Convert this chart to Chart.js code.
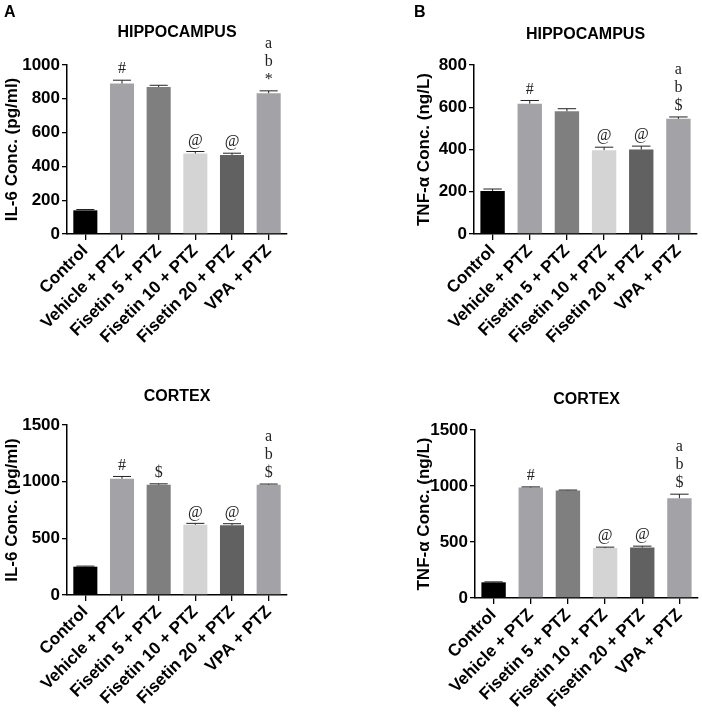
<!DOCTYPE html>
<html>
<head>
<meta charset="utf-8">
<script src="https://cdn.jsdelivr.net/npm/chart.js@4/dist/chart.umd.min.js"></script>
<style>
  body { margin: 0; background: #fff; width: 702px; height: 723px; position: relative; overflow: hidden; }
  canvas { position: absolute; }
</style>
</head>
<body>
<canvas id="panelA" width="351" height="360" style="left:0;top:0"></canvas>
<canvas id="panelB" width="351" height="360" style="left:351px;top:0"></canvas>
<canvas id="panelC" width="351" height="363" style="left:0;top:360px"></canvas>
<canvas id="panelD" width="351" height="363" style="left:351px;top:360px"></canvas>
<script>
const groups = ["Control", "Vehicle + PTZ", "Fisetin 5 + PTZ", "Fisetin 10 + PTZ", "Fisetin 20 + PTZ", "VPA + PTZ"];

const il6Hippo = [140, 890, 870, 476, 468, 833];
const il6HippoErr = [5, 20, 10, 12, 10, 14];
const il6HippoMarks = [[], ["#"], [], ["@"], ["@"], ["a", "b", "*"]];
const il6HippoTicks = [0, 200, 400, 600, 800, 1000];

const tnfHippo = [203, 617, 581, 397, 400, 545];
const tnfHippoErr = [10, 15, 12, 14, 16, 9];
const tnfHippoMarks = [[], ["#"], [], ["@"], ["@"], ["a", "b", "$"]];
const tnfHippoTicks = [0, 200, 400, 600, 800];

const il6Cortex = [250, 1026, 973, 620, 615, 973];
const il6CortexErr = [5, 20, 8, 12, 14, 6];
const il6CortexMarks = [[], ["#"], ["$"], ["@"], ["@"], ["a", "b", "$"]];
const il6CortexTicks = [0, 500, 1000, 1500];

const tnfCortex = [140, 986, 959, 446, 451, 891];
const tnfCortexErr = [4, 6, 5, 8, 12, 36];
const tnfCortexMarks = [[], ["#"], [], ["@"], ["@"], ["a", "b", "$"]];
const tnfCortexTicks = [0, 500, 1000, 1500];

const barColors = ["#000000", "#a3a2a7", "#7f7f7f", "#d4d4d4", "#616161", "#a3a2a7"];
const sans = "'Liberation Sans', Arial, sans-serif";
const serif = "'Liberation Serif', 'Times New Roman', serif";

function panel(id, p) {
  const extras = {
    id: "extras",
    afterDatasetsDraw(chart) {
      const ctx = chart.ctx;
      const y = chart.scales.y;
      const meta = chart.getDatasetMeta(0);
      ctx.save();
      p.values.forEach((v, i) => {
        const bar = meta.data[i];
        const yVal = y.getPixelForValue(v);
        const yTop = y.getPixelForValue(v + p.errors[i]);
        ctx.strokeStyle = "#222";
        ctx.lineWidth = 1;
        ctx.beginPath();
        ctx.moveTo(bar.x, yVal);
        ctx.lineTo(bar.x, yTop);
        ctx.moveTo(bar.x - bar.width / 2 + 3, yTop);
        ctx.lineTo(bar.x + bar.width / 2 - 3, yTop);
        ctx.stroke();
        ctx.fillStyle = "#222";
        ctx.textAlign = "center";
        ctx.textBaseline = "middle";
        const m = p.marks[i].slice().reverse();
        m.forEach((s, j) => {
          ctx.font = "16px " + serif;
          ctx.fillText(s, bar.x, yTop - 11 - j * 18);
        });
      });
      const a = chart.chartArea;
      ctx.fillStyle = "#000";
      ctx.font = "bold 16px " + sans;
      ctx.textAlign = "center";
      ctx.textBaseline = "middle";
      ctx.fillText(p.title, (a.left + a.right) / 2, p.titleY);
      if (p.letter) {
        ctx.font = "bold 16px " + sans;
        ctx.textAlign = "left";
        ctx.fillText(p.letter, p.letterX, 13);
      }
      ctx.restore();
    }
  };

  return new Chart(document.getElementById(id), {
    type: "bar",
    data: {
      labels: groups,
      datasets: [{
        data: p.values,
        backgroundColor: barColors,
        borderWidth: 0,
        barPercentage: 0.8,
        categoryPercentage: 0.82
      }]
    },
    options: {
      responsive: false,
      animation: false,
      layout: { padding: { top: p.top, left: p.left, right: p.right, bottom: 0 } },
      plugins: { legend: { display: false }, tooltip: { enabled: false } },
      scales: {
        x: {
          grid: { display: true, drawOnChartArea: false, offset: false, tickLength: 6, color: "#000", lineWidth: 1.3 },
          border: { display: true, color: "#000", width: 1.5 },
          ticks: {
            autoSkip: false, minRotation: 45, maxRotation: 45, padding: 1,
            color: "#000", font: { family: sans, size: 17, weight: "bold" }
          },
          afterFit: s => { s.height = p.xHeight; }
        },
        y: {
          min: 0,
          max: p.ticks[p.ticks.length - 1],
          afterBuildTicks: s => { s.ticks = p.ticks.map(v => ({ value: v })); },
          grid: { display: true, drawOnChartArea: false, tickLength: 5, color: "#000", lineWidth: 1.3 },
          border: { display: true, color: "#000", width: 1.5 },
          ticks: {
            padding: 2, color: "#000", font: { family: sans, size: 17, weight: "bold" },
            callback: v => String(v)
          },
          title: {
            display: true, text: p.yTitle, color: "#000",
            padding: { top: 1, bottom: 0 },
            font: { family: sans, size: 17, weight: "bold" }
          },
          afterFit: s => { s.width = p.yWidth; }
        }
      }
    },
    plugins: [extras]
  });
}

panel("panelA", {
  values: il6Hippo, errors: il6HippoErr, marks: il6HippoMarks, ticks: il6HippoTicks,
  yTitle: "IL-6 Conc. (pg/ml)", title: "HIPPOCAMPUS", titleY: 33, letter: "A", letterX: 4,
  top: 65, left: 1, right: 64, yWidth: 66, xHeight: 126
});
panel("panelB", {
  values: tnfHippo, errors: tnfHippoErr, marks: tnfHippoMarks, ticks: tnfHippoTicks,
  yTitle: "TNF-\u03b1 Conc. (ng/L)", title: "HIPPOCAMPUS", titleY: 35, letter: "B", letterX: 63,
  top: 65, left: 62, right: 5, yWidth: 61, xHeight: 126
});
panel("panelC", {
  values: il6Cortex, errors: il6CortexErr, marks: il6CortexMarks, ticks: il6CortexTicks,
  yTitle: "IL-6 Conc. (pg/ml)", title: "CORTEX", titleY: 37,
  top: 65, left: 1, right: 64, yWidth: 66, xHeight: 128
});
panel("panelD", {
  values: tnfCortex, errors: tnfCortexErr, marks: tnfCortexMarks, ticks: tnfCortexTicks,
  yTitle: "TNF-\u03b1 Conc. (ng/L)", title: "CORTEX", titleY: 40,
  top: 70, left: 62, right: 4, yWidth: 62, xHeight: 125
});
</script>
</body>
</html>
